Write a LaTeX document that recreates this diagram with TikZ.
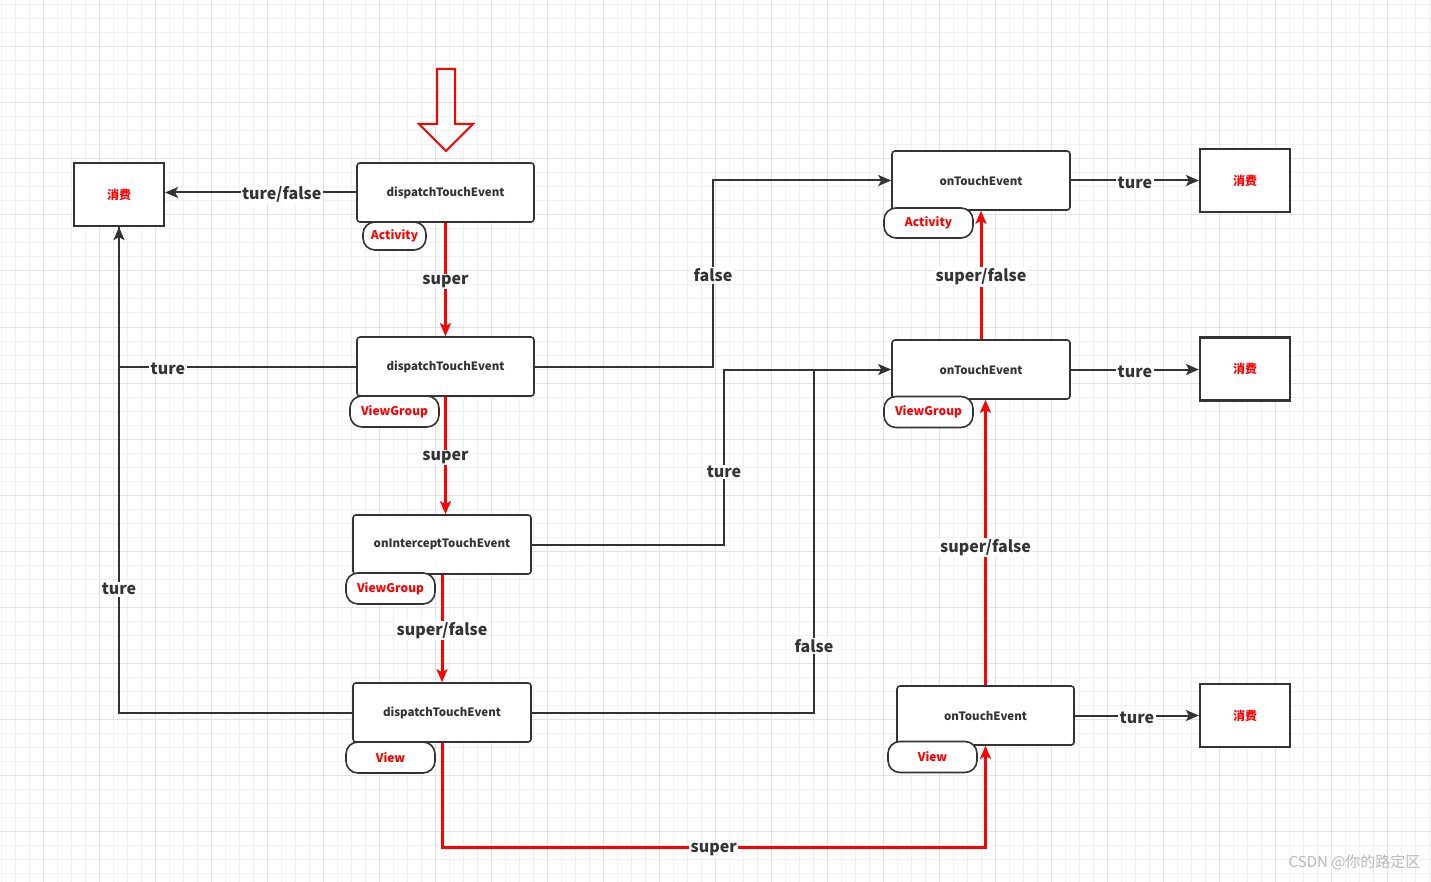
\documentclass[tikz,border=0pt]{standalone}
\usepackage{fontspec}
\setmainfont{Noto Sans CJK SC}
\usetikzlibrary{arrows.meta,calc}
\definecolor{ink}{HTML}{333333}
\definecolor{rd}{HTML}{FF0000}
\definecolor{gminor}{HTML}{F0F0F0}
\definecolor{gmajor}{HTML}{E2E2E2}
\tikzset{
  fnbox/.style={draw=ink,line width=1.6pt,rounded corners=3pt,fill=white,minimum width=177pt,minimum height=59pt,inner sep=0pt,font=\fontsize{11.5}{11.5}\selectfont\bfseries,text=ink},
  usebox/.style={draw=ink,line width=2.2pt,fill=white,minimum width=90pt,minimum height=63pt,inner sep=0pt,font=\fontsize{12}{12}\selectfont\bfseries,text=rd},
  tag/.style={draw=ink,line width=1.6pt,rounded corners=12pt,fill=white,minimum width=89pt,minimum height=31pt,inner sep=0pt,font=\fontsize{12}{12}\selectfont\bfseries,text=rd},
  lbl/.style={fill=white,inner sep=1.5pt,yshift=-2pt,font=\fontsize{16}{16}\selectfont\bfseries,text=ink},
  conn/.style={draw=ink,line width=2pt},
  rconn/.style={draw=rd,line width=3pt},
  tip/.style={-{Stealth[length=13pt,width=11pt,inset=3pt]}},
}
\begin{document}
\begin{tikzpicture}[x=1pt,y=-1pt]
\useasboundingbox (0,0) rectangle (1431,882);
\fill[white] (0,0) rectangle (1431,882);
% grid
\foreach \x in {1,15,...,1431} \draw[gminor,line width=1pt] (\x,0) -- (\x,882);
\foreach \y in {5,19,...,882} \draw[gminor,line width=1pt] (0,\y) -- (1431,\y);
\foreach \x in {43,99,...,1431} \draw[gmajor,line width=1pt] (\x,0) -- (\x,882);
\foreach \y in {47,103,...,882} \draw[gmajor,line width=1pt] (0,\y) -- (1431,\y);

% entry arrow
\draw[rd,line width=2pt,line join=miter] (437,69) -- (455,69) -- (455,124) -- (473,124) -- (446,151) -- (419,124) -- (437,124) -- cycle;

% nodes
\node[usebox] (c0) at (119,194.5) {消费};
\node[usebox] (c1) at (1245,180.5) {消费};
\node[usebox] (c2) at (1245,369) {消费};
\node[usebox] (c3) at (1245,715.5) {消费};

\node[fnbox] (a1) at (445.5,192.5) {dispatchTouchEvent};
\node[fnbox] (vg1) at (445.5,366.5) {dispatchTouchEvent};
\node[fnbox,minimum width=178pt] (ic) at (442,544.5) {onInterceptTouchEvent};
\node[fnbox,minimum width=178pt] (v1) at (442,712.5) {dispatchTouchEvent};
\node[fnbox,minimum width=178pt] (a2) at (981,180.5) {onTouchEvent};
\node[fnbox,minimum width=178pt] (vg2) at (981,369.5) {onTouchEvent};
\node[fnbox] (v2) at (985.5,715.5) {onTouchEvent};

% black connectors
\coordinate (j) at (814,369.5);
\draw[conn,tip] (a1.west) -- node[lbl,pos=0.39]{ture/false} (c0.east |- a1.west);
\draw[conn,tip] (vg1.west) -| node[lbl,pos=0.397]{ture} (c0.south);
\draw[conn] (v1.west) -| node[lbl,pos=0.629]{ture} (c0.south);
\draw[conn,tip] (vg1.east) -- (713,366.5) |- node[lbl,pos=0.25]{false} (a2.west);
\draw[conn,tip] (ic.east) -- (724,544.5) |- node[lbl,pos=0.213]{ture} (vg2.west);
\draw[conn] (v1.east) -| node[lbl,pos=0.60]{false} (j);
\draw[conn,tip] (a2.east) -- node[lbl]{ture} (c1.west);
\draw[conn,tip] (vg2.east) -- node[lbl]{ture} (vg2.east -| c2.west);
\draw[conn,tip] (v2.east) -- node[lbl]{ture} (c3.west);

% red connectors
\draw[rconn,tip] (a1.south) -- node[lbl]{super} (vg1.north);
\draw[rconn,tip] (vg1.south) -- node[lbl]{super} (vg1.south |- ic.north);
\draw[rconn,tip] (ic.south) -- node[lbl]{super/false} (v1.north);
\draw[rconn,tip] (v1.south) -- ++(0,105) -| node[lbl,pos=0.25]{super} (v2.south);
\draw[rconn,tip] (v2.north) -- node[lbl,pos=0.49]{super/false} (v2.north |- vg2.south);
\draw[rconn,tip] (vg2.north) -- node[lbl]{super/false} (a2.south);

% tags
\node[tag,minimum width=63pt,minimum height=28pt] (ta1) at (394.5,236) {Activity};
\node[tag] (tvg1) at (394.5,411.5) {ViewGroup};
\node[tag] (tic) at (390.5,588.5) {ViewGroup};
\node[tag] (tv1) at (390.5,757.5) {View};
\node[tag,minimum height=30pt] (ta2) at (928.5,223) {Activity};
\node[tag] (tvg2) at (928.5,412) {ViewGroup};
\node[tag] (tv2) at (932.5,757) {View};

% watermark
\node[text=gray!55,font=\fontsize{15}{15}\selectfont,anchor=east] (wm) at (1424,862) {CSDN @你的路定区};
\end{tikzpicture}
\end{document}
